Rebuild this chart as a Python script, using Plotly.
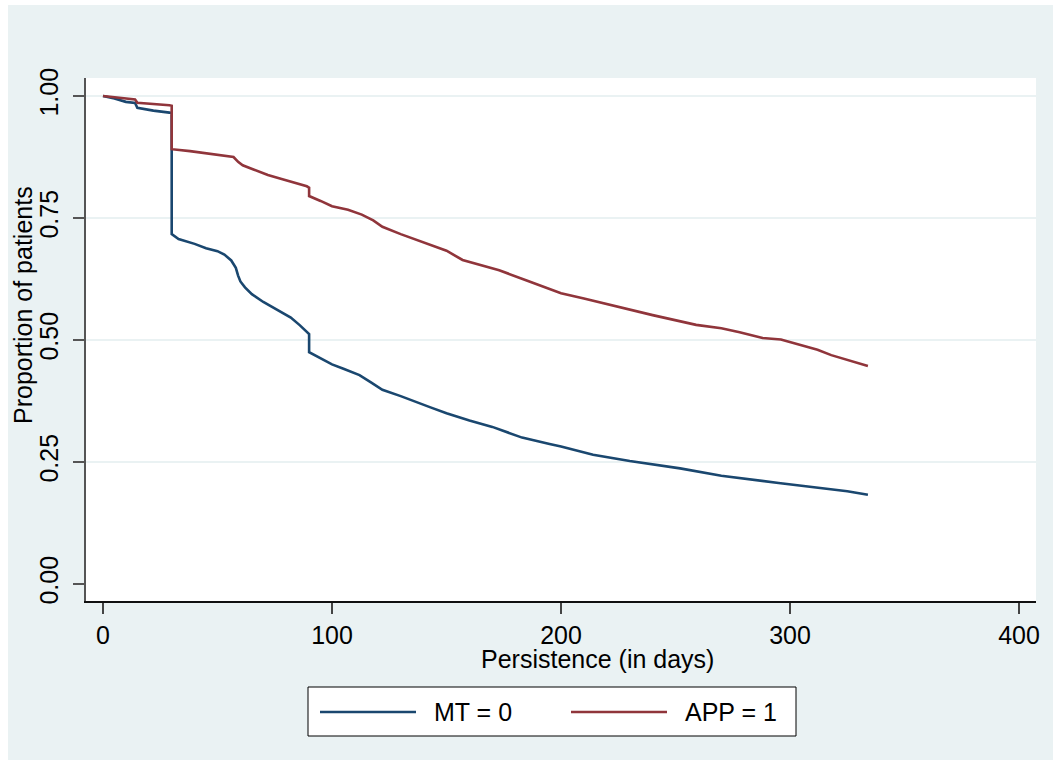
import plotly.graph_objects as go

# ---------------- data ----------------
mt_days = [0, 5, 10, 14, 15, 22, 29, 30, 30, 33, 40, 45, 50, 53, 56, 58, 59, 60, 62, 65,
           70, 75, 82, 86, 89, 90, 90, 95, 100, 105, 112, 117, 122, 130, 136, 143, 150,
           160, 170, 183, 195, 200, 214, 230, 252, 270, 295, 310, 325, 334]
mt_surv = [1.000, 0.995, 0.988, 0.986, 0.976, 0.970, 0.966, 0.965, 0.717, 0.707, 0.697,
           0.688, 0.682, 0.675, 0.663, 0.648, 0.632, 0.620, 0.608, 0.594, 0.578, 0.565,
           0.546, 0.530, 0.515, 0.512, 0.475, 0.462, 0.450, 0.441, 0.428, 0.413, 0.398,
           0.385, 0.374, 0.362, 0.350, 0.335, 0.322, 0.300, 0.287, 0.282, 0.265, 0.252,
           0.237, 0.222, 0.207, 0.198, 0.190, 0.183]

app_days = [0, 7, 14, 15, 22, 29, 30, 30, 38, 45, 52, 57, 59, 61, 66, 72, 78, 84, 89, 90,
            90, 95, 100, 107, 113, 118, 122, 130, 143, 150, 157, 165, 173, 185, 200, 210,
            223, 240, 259, 270, 278, 288, 296, 304, 312, 318, 325, 334]
app_surv = [1.000, 0.997, 0.993, 0.986, 0.984, 0.981, 0.980, 0.891, 0.887, 0.883, 0.879,
            0.875, 0.865, 0.858, 0.849, 0.838, 0.830, 0.822, 0.815, 0.812, 0.795, 0.785,
            0.774, 0.767, 0.757, 0.745, 0.732, 0.717, 0.695, 0.683, 0.664, 0.653, 0.643,
            0.622, 0.596, 0.585, 0.570, 0.551, 0.531, 0.524, 0.516, 0.504, 0.501, 0.490,
            0.480, 0.469, 0.460, 0.447]

series_names = ["MT = 0", "APP = 1"]
series_colors = ["#1A476F", "#90353B"]

x_ticks = [0, 100, 200, 300, 400]
y_ticks = [0.0, 0.25, 0.5, 0.75, 1.0]
y_grid = [0.25, 0.5, 0.75, 1.0]

x_title = "Persistence (in days)"
y_title = "Proportion of patients"

# ---------------- layout geometry ----------------
W, H = 1053, 767
L, R, T, B = 86, 17, 78, 166
PW, PH = W - L - R, H - T - B


def fx(px):
    return (px - L) / PW


def fy(py):
    return (H - B - py) / PH


FONT = "Liberation Sans, Arial, sans-serif"
FS = 25
BG = "#EAF2F3"

fig = go.Figure()
for d, s, name, col in [(mt_days, mt_surv, series_names[0], series_colors[0]),
                        (app_days, app_surv, series_names[1], series_colors[1])]:
    fig.add_trace(go.Scatter(x=d, y=s, mode="lines", name=name,
                             line=dict(color=col, width=2.6), showlegend=False))

shapes = [
    dict(type="rect", xref="paper", yref="paper", x0=fx(8), x1=fx(1053), y0=fy(5), y1=fy(760),
         fillcolor=BG, line=dict(width=0), layer="below"),
    dict(type="rect", xref="paper", yref="paper", x0=0, x1=1, y0=0, y1=1,
         fillcolor="white", line=dict(width=0), layer="below"),
]
for g in y_grid:
    shapes.append(dict(type="line", xref="paper", yref="y", x0=0, x1=1, y0=g, y1=g,
                       line=dict(color=BG, width=2), layer="below"))

# legend box
shapes.append(dict(type="rect", xref="paper", yref="paper", x0=fx(308), x1=fx(796),
                   y0=fy(736), y1=fy(687), fillcolor="white",
                   line=dict(color="black", width=1)))
leg_line_x = [(320, 416), (571, 667)]
leg_text_x = [432, 683]
annotations = []
for (a, b), tx, name, col in zip(leg_line_x, leg_text_x, series_names, series_colors):
    shapes.append(dict(type="line", xref="paper", yref="paper", x0=fx(a), x1=fx(b),
                       y0=fy(712), y1=fy(712), line=dict(color=col, width=2.6)))
    annotations.append(dict(xref="paper", yref="paper", x=fx(tx), y=fy(712), text=name,
                            showarrow=False, xanchor="left", yanchor="middle",
                            font=dict(family=FONT, size=FS, color="black")))

annotations.append(dict(xref="paper", yref="paper", x=fx(597), y=fy(659), text=x_title,
                        showarrow=False, xanchor="center", yanchor="middle",
                        font=dict(family=FONT, size=FS, color="black")))
annotations.append(dict(xref="paper", yref="paper", x=fx(23), y=fy(305), text=y_title,
                        showarrow=False, xanchor="center", yanchor="middle", textangle=-90,
                        font=dict(family=FONT, size=FS, color="black")))

fig.update_layout(
    width=W, height=H, margin=dict(l=L, r=R, t=T, b=B, autoexpand=False),
    paper_bgcolor="white", plot_bgcolor="white",
    font=dict(family=FONT, size=FS, color="black"),
    shapes=shapes, annotations=annotations,
    xaxis=dict(range=[-7.42, 407.4], tickvals=x_ticks, showgrid=False, zeroline=False,
               showline=True, linecolor="#111111", linewidth=1.5,
               ticks="outside", ticklen=11, tickwidth=1.5, tickcolor="#444444",
               ticklabelstandoff=0, tickfont=dict(family=FONT, size=FS, color="black")),
    yaxis=dict(range=[-0.0348, 1.0369], tickvals=y_ticks, tickformat=".2f", showgrid=False,
               zeroline=False, showline=True, linecolor="#555555", linewidth=1.5,
               ticks="outside", ticklen=11, tickwidth=1.5, tickcolor="#555555",
               tickangle=-90, ticklabelstandoff=5,
               tickfont=dict(family=FONT, size=FS, color="black")),
)

fig.write_html("out.html")
